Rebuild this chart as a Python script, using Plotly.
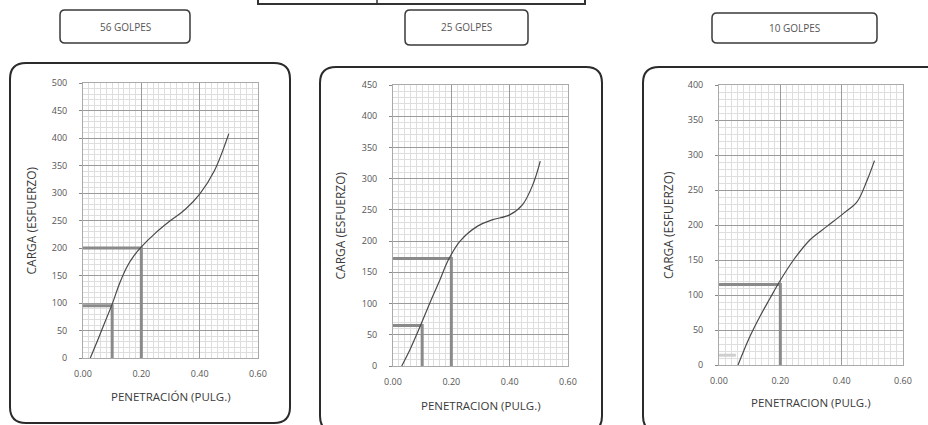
import plotly.graph_objects as go

W, H = 928, 425

# --- data ---
titles = ["56 GOLPES", "25 GOLPES", "10 GOLPES"]
x_titles = ["PENETRACIÓN (PULG.)", "PENETRACION (PULG.)", "PENETRACION (PULG.)"]
y_title = "CARGA (ESFUERZO)"

pen_56 = [0.025, 0.05, 0.075, 0.10, 0.125, 0.15, 0.175, 0.20, 0.25, 0.30, 0.35, 0.40, 0.45, 0.50]
load_56 = [0, 32, 65, 98, 135, 165, 186, 202, 228, 250, 270, 298, 340, 408]

pen_25 = [0.03, 0.06, 0.09, 0.13, 0.16, 0.19, 0.23, 0.29, 0.34, 0.40, 0.445, 0.48, 0.505]
load_25 = [0, 28, 60, 105, 137, 170, 200, 224, 234, 242, 259, 291, 328]

pen_10 = [0.062, 0.10, 0.133, 0.166, 0.20, 0.243, 0.297, 0.352, 0.407, 0.45, 0.483, 0.507]
load_10 = [0, 40, 69, 95, 121, 150, 179, 198, 217, 233, 264, 292]

# reference readings at 0.1" and 0.2"
ref_pen_56, ref_load_56 = [0.10, 0.20], [95, 200]
ref_pen_25, ref_load_25 = [0.10, 0.20], [65, 172]
ref_pen_10, ref_load_10 = [0.20], [115]
faint_pen_10, faint_load_10 = [0.055], [14]

y_max = [500, 450, 400]
x_ticks = [0.0, 0.2, 0.4, 0.6]

# --- layout in pixels (left, right, top, bottom of plot areas) ---
plot_px = [(83, 258, 83, 358), (393, 568, 85, 366), (719, 903, 85, 365)]
panel_px = [(10, 63, 290, 423), (320, 67, 602, 432), (643, 67, 945, 432)]
title_px = [(60, 10, 190, 43), (405, 10, 528, 45), (712, 13, 877, 43)]
ytitle_x = [31, 340, 668]
xtitle_y = [396, 405, 402]


def fx(px):
    return px / W


def fy(py):
    return 1 - py / H


def rrect(x0, y0, x1, y1, r):
    pts = [("M", [(x0 + r, y0)]), ("L", [(x1 - r, y0)]), ("Q", [(x1, y0), (x1, y0 + r)]),
           ("L", [(x1, y1 - r)]), ("Q", [(x1, y1), (x1 - r, y1)]), ("L", [(x0 + r, y1)]),
           ("Q", [(x0, y1), (x0, y1 - r)]), ("L", [(x0, y0 + r)]), ("Q", [(x0, y0), (x0 + r, y0)])]
    s = ""
    for cmd, ps in pts:
        s += cmd + " " + " ".join(f"{fx(a):.5f},{fy(b):.5f}" for a, b in ps) + " "
    return s + "Z"


fig = go.Figure()

series = [(pen_56, load_56, ref_pen_56, ref_load_56),
          (pen_25, load_25, ref_pen_25, ref_load_25),
          (pen_10, load_10, ref_pen_10, ref_load_10)]

for n, (px, py, rx, ry) in enumerate(series):
    xa = "x" if n == 0 else f"x{n + 1}"
    ya = "y" if n == 0 else f"y{n + 1}"
    for a, b in zip(rx, ry):
        fig.add_trace(go.Scatter(x=[0, a, a], y=[b, b, 0], mode="lines", xaxis=xa, yaxis=ya,
                                 line=dict(color="#8a8a8a", width=3), hoverinfo="skip"))
    if n == 2:
        for a, b in zip(faint_pen_10, faint_load_10):
            fig.add_trace(go.Scatter(x=[0, a], y=[b, b], mode="lines", xaxis=xa, yaxis=ya,
                                     line=dict(color="#cfcfcf", width=3), hoverinfo="skip"))
    fig.add_trace(go.Scatter(x=px, y=py, mode="lines", xaxis=xa, yaxis=ya,
                             line=dict(color="#4a4a4a", width=1.2, shape="spline")))

tickfont = dict(family="Open Sans", size=9, color="#555")
layout = dict(width=W, height=H, autosize=False, margin=dict(l=0, r=0, t=0, b=0, pad=0),
              showlegend=False, paper_bgcolor="white", plot_bgcolor="white")

for n in range(3):
    l, r, t, b = plot_px[n]
    sx = "" if n == 0 else str(n + 1)
    layout["xaxis" + sx] = dict(
        domain=[fx(l), fx(r)], range=[0, 0.6], anchor="y" + sx, tickvals=x_ticks,
        tickformat=".2f", tickfont=tickfont, showgrid=True, gridcolor="#9a9a9a", gridwidth=1,
        minor=dict(dtick=0.02, showgrid=True, gridcolor="#dedede", gridwidth=1),
        showline=True, linecolor="#aaa", mirror=True, zeroline=False, ticks="",
        ticklabelstandoff=7, automargin=False)
    layout["yaxis" + sx] = dict(
        domain=[fy(b), fy(t)], range=[0, y_max[n]], anchor="x" + sx, dtick=50,
        tickfont=tickfont, showgrid=True, gridcolor="#9a9a9a", gridwidth=1,
        minor=dict(dtick=10, showgrid=True, gridcolor="#dedede", gridwidth=1),
        showline=True, linecolor="#aaa", mirror=True, zeroline=False, ticks="outside",
        ticklen=3, tickcolor="#888", ticklabelstandoff=10, automargin=False)

fig.update_layout(**layout)

shapes = []
annotations = []
for n in range(3):
    x0, y0, x1, y1 = panel_px[n]
    shapes.append(dict(type="path", path=rrect(x0, y0, x1, y1, 16), xref="paper", yref="paper",
                       line=dict(color="#2b2b2b", width=2)))
    x0, y0, x1, y1 = title_px[n]
    shapes.append(dict(type="path", path=rrect(x0, y0, x1, y1, 5), xref="paper", yref="paper",
                       line=dict(color="#3a3a3a", width=1.5)))
    annotations.append(dict(x=fx((x0 + x1) / 2), y=fy((y0 + y1) / 2), xref="paper", yref="paper",
                            xanchor="center", yanchor="middle", text=titles[n], showarrow=False,
                            font=dict(family="Open Sans", size=10, color="#555")))
    l, r, t, b = plot_px[n]
    annotations.append(dict(x=fx(ytitle_x[n]), y=fy((t + b) / 2), xref="paper", yref="paper",
                            xanchor="center", yanchor="middle", text=y_title, textangle=-90,
                            showarrow=False, font=dict(family="Open Sans", size=12, color="#3a3a3a")))
    annotations.append(dict(x=fx((l + r) / 2), y=fy(xtitle_y[n]), xref="paper", yref="paper",
                            xanchor="center", yanchor="middle", text=x_titles[n], showarrow=False,
                            font=dict(family="Open Sans", size=11.5, color="#3a3a3a")))

# cut-off table at the top of the page
shapes.append(dict(type="rect", xref="paper", yref="paper", x0=fx(258), x1=fx(585), y0=fy(4), y1=fy(-6),
                   line=dict(color="#333", width=2)))
shapes.append(dict(type="line", xref="paper", yref="paper", x0=fx(377), x1=fx(377), y0=fy(4), y1=fy(-6),
                   line=dict(color="#333", width=1.5)))

fig.update_layout(shapes=shapes, annotations=annotations)

# the page's default body margin would push the figure off the window
fig.write_html("out.html", config={"displayModeBar": False},
               post_script="document.body.style.margin='0';")
